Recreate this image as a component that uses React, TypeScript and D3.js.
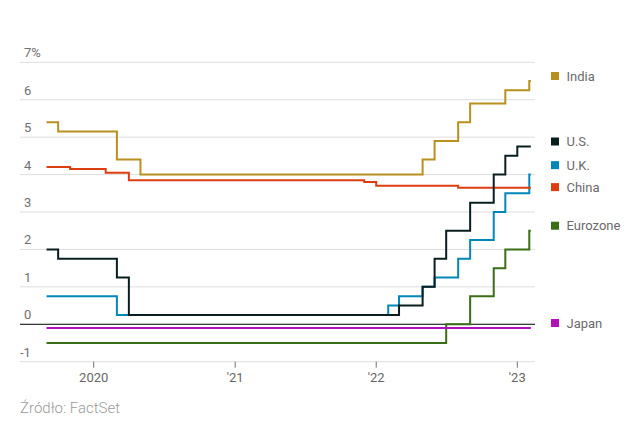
import React from "react";
import * as d3 from "d3";

// Change points: [month, policy rate %]
const india: [string, number][] = [
  ["2019-09", 5.4], ["2019-10", 5.15], ["2020-03", 4.4], ["2020-05", 4.0],
  ["2022-05", 4.4], ["2022-06", 4.9], ["2022-08", 5.4], ["2022-09", 5.9],
  ["2022-12", 6.25], ["2023-02", 6.5],
];
const us: [string, number][] = [
  ["2019-09", 2.0], ["2019-10", 1.75], ["2020-03", 1.25], ["2020-04", 0.25],
  ["2022-03", 0.5], ["2022-05", 1.0], ["2022-06", 1.75], ["2022-07", 2.5],
  ["2022-09", 3.25], ["2022-11", 4.0], ["2022-12", 4.5], ["2023-01", 4.75],
];
const uk: [string, number][] = [
  ["2019-09", 0.75], ["2020-03", 0.25], ["2022-02", 0.5], ["2022-03", 0.75],
  ["2022-05", 1.0], ["2022-06", 1.25], ["2022-08", 1.75], ["2022-09", 2.25],
  ["2022-11", 3.0], ["2022-12", 3.5], ["2023-02", 4.0],
];
const china: [string, number][] = [
  ["2019-09", 4.2], ["2019-11", 4.15], ["2020-02", 4.05], ["2020-04", 3.85],
  ["2021-12", 3.8], ["2022-01", 3.7], ["2022-08", 3.65],
];
const eurozone: [string, number][] = [
  ["2019-09", -0.5], ["2022-07", 0.0], ["2022-09", 0.75], ["2022-11", 1.5],
  ["2022-12", 2.0], ["2023-02", 2.5],
];
const japan: [string, number][] = [["2019-09", -0.1]];

const seriesNames = ["India", "U.K.", "China", "Eurozone", "Japan", "U.S."];
const seriesData = [india, uk, china, eurozone, japan, us];
const seriesColors = ["#b8901e", "#0288b8", "#dc3e12", "#3a6e17", "#b010bc", "#0a1e20"];

const yTicks = [-1, 0, 1, 2, 3, 4, 5, 6, 7];
const xTickDates = ["2020-01-01", "2021-01-01", "2022-01-01", "2023-01-01"];
const xTickLabels = ["2020", "'21", "'22", "'23"];
const endDate = "2023-02-05";
const sourceText = "Źródło: FactSet";

const W = 639;
const H = 433;
const plotLeft = 20;
const plotRight = 535;

const parse = d3.utcParse("%Y-%m-%d");
const parseMonth = d3.utcParse("%Y-%m");

const x = d3
  .scaleUtc()
  .domain([parse("2020-01-01")!, parse("2023-01-01")!])
  .range([93.7, 517.3]);
const y = d3.scaleLinear().domain([-1, 7]).range([361.7, 62.3]);

const FONT = "Roboto, 'Liberation Sans', Arial, sans-serif";

function buildPoints(d: [string, number][]) {
  const pts = d.map(([m, v]) => ({ date: parseMonth(m)!, v }));
  pts.push({ date: parse(endDate)!, v: pts[pts.length - 1].v });
  return pts;
}

const line = d3
  .line<{ date: Date; v: number }>()
  .x((p) => x(p.date))
  .y((p) => y(p.v))
  .curve(d3.curveStepAfter);

function legendPositions() {
  const items = seriesNames.map((name, i) => {
    const d = seriesData[i];
    return { name, color: seriesColors[i], ly: y(d[d.length - 1][1]) - 5 };
  });
  items.sort((a, b) => a.ly - b.ly);
  const gap = 22;
  for (let iter = 0; iter < 20; iter++) {
    for (let i = 1; i < items.length; i++) {
      const diff = items[i].ly - items[i - 1].ly;
      if (diff < gap) {
        const push = (gap - diff) / 2;
        items[i].ly += push;
        items[i - 1].ly -= push;
      }
    }
  }
  return items;
}

export default function App() {
  const legend = legendPositions();
  return (
    <div style={{ position: "absolute", left: 0, top: 0 }}>
      <svg width={W} height={H} style={{ display: "block", background: "#fff" }}>
        {/* gridlines */}
        {yTicks.map((t) => (
          <line
            key={"g" + t}
            x1={plotLeft}
            x2={plotRight}
            y1={y(t)}
            y2={y(t)}
            stroke={t === 0 ? "#000" : "#dedede"}
            strokeWidth={1}
          />
        ))}
        {/* y labels */}
        {yTicks.map((t) => (
          <text
            key={"yl" + t}
            x={t < 0 ? plotLeft : plotLeft + 4}
            y={y(t) - 5}
            fontFamily={FONT}
            fontSize={13}
            fill="#707070"
          >
            {t === 7 ? "7%" : String(t)}
          </text>
        ))}
        {/* x ticks */}
        {xTickDates.map((dStr, i) => {
          const xx = x(parse(dStr)!);
          return (
            <g key={"xt" + i}>
              <line x1={xx} x2={xx} y1={y(-1)} y2={y(-1) + 6} stroke="#707070" strokeWidth={1} />
              <text
                x={xx}
                y={381.5}
                textAnchor="middle"
                fontFamily={FONT}
                fontSize={13}
                fill="#666"
              >
                {xTickLabels[i]}
              </text>
            </g>
          );
        })}
        {/* series lines */}
        {seriesData.map((d, i) => (
          <path
            key={"s" + i}
            d={line(buildPoints(d)) || ""}
            fill="none"
            stroke={seriesColors[i]}
            strokeWidth={2}
            strokeLinejoin="miter"
          />
        ))}
        {/* legend */}
        {legend.map((it) => (
          <g key={"lg" + it.name}>
            <rect x={551} y={it.ly - 4} width={8} height={8} fill={it.color} />
            <text
              x={566.5}
              y={it.ly + 4.5}
              fontFamily={FONT}
              fontSize={13}
              fill="#6a6a6a"
            >
              {it.name}
            </text>
          </g>
        ))}
        {/* source */}
        <text x={20} y={413} fontFamily={FONT} fontSize={15} fontWeight={300} fill="#9a9a9a">
          {sourceText}
        </text>
      </svg>
    </div>
  );
}
